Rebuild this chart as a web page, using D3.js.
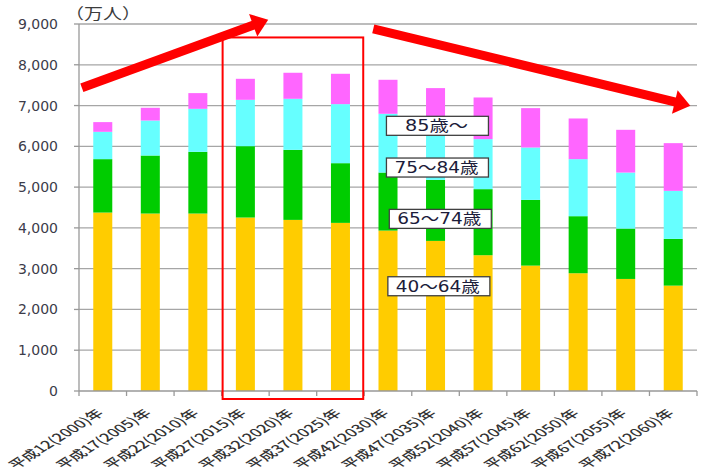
<!DOCTYPE html>
<html>
	<head>
		<meta http-equiv="Content-Type" content="text/html;charset=utf-8"/>
		<title>40歳以上人口の推移</title>
		<script type="text/javascript" src="https://cdn.jsdelivr.net/npm/d3@7/dist/d3.min.js"></script>
		<style type="text/css">
			body { margin: 0; background: #fff; }
			text { font-family: "DejaVu Sans", "Noto Sans CJK JP", sans-serif; }
			.grid line { stroke: #a6a6a6; stroke-width: 1.3; }
			.tick-label { fill: #3c3c4a; font-size: 14px; }
			.cat-label { fill: #333; font-size: 11px; font-family: "Noto Sans CJK JP", sans-serif; font-weight: 500; }
			.seg-box { fill: #fff; stroke: #404040; stroke-width: 1.3; }
			.seg-text { fill: #1c1c3a; font-size: 15px; }
		</style>
	</head>
	<body>
		<script type="text/javascript">

			//Categories (x axis)
			var categories = ["平成12(2000)年", "平成17(2005)年", "平成22(2010)年", "平成27(2015)年",
				"平成32(2020)年", "平成37(2025)年", "平成42(2030)年", "平成47(2035)年",
				"平成52(2040)年", "平成57(2045)年", "平成62(2050)年", "平成67(2055)年", "平成72(2060)年"];

			//Series values, 万人 (bottom to top)
			var age40to64 = [4376, 4352, 4352, 4254, 4196, 4123, 3934, 3681, 3330, 3075, 2888, 2748, 2584];
			var age65to74 = [1310, 1423, 1513, 1750, 1718, 1464, 1423, 1497, 1620, 1612, 1399, 1235, 1146];
			var age75to84 = [ 670,  858, 1055, 1137, 1252, 1448, 1441, 1472, 1227, 1284, 1399, 1374, 1178];
			var age85plus = [ 238,  312,  385,  515,  638,  744,  834,  778, 1021,  966,  997, 1048, 1170];

			var seriesNames = ["40〜64歳", "65〜74歳", "75〜84歳", "85歳〜"];
			var seriesColors = ["#ffcc00", "#00cc00", "#66ffff", "#ff66ff"];

			//Y ticks
			var yTicks = [0, 1000, 2000, 3000, 4000, 5000, 6000, 7000, 8000, 9000];
			var unitLabel = "（万人）";

			//Label boxes: [series index, category position of box centre, value at box centre]
			var segLabels = [
				[3, 7.54, 6503],
				[2, 7.54, 5480],
				[1, 7.60, 4221],
				[0, 7.57, 2569]
			];

			//Red arrows: [category position, value] start and tip
			var arrows = [
				[[0.06, 7435], [3.98, 9104]],
				[[6.19, 8883], [12.86, 6994]]
			];
			//Highlighted categories (2015-2025)
			var highlight = [3, 5];

			var w = 705,
				h = 472,
				mLeft = 79,
				mRight = 697,
				mTop = 24,
				mBottom = 391;

			var svg = d3.select("body").append("svg")
						.attr("width", w)
						.attr("height", h);

			var x = d3.scaleBand()
				.domain(categories)
				.range([mLeft, mRight])
				.paddingInner(0.6)
				.paddingOuter(0.3);

			var y = d3.scaleLinear()
				.domain([0, 9000])
				.range([mBottom, mTop]);

			var step = x.step();
			function px(p) { return mLeft + p * step; }

			//Gridlines
			svg.append("g").attr("class", "grid")
				.selectAll("line")
				.data(yTicks.filter(function(d) { return d > 0; }))
				.enter().append("line")
				.attr("x1", mLeft).attr("x2", mRight)
				.attr("y1", function(d) { return y(d); })
				.attr("y2", function(d) { return y(d); });

			//Y axis line + small ticks
			svg.append("line")
				.attr("x1", mLeft).attr("x2", mLeft)
				.attr("y1", mTop).attr("y2", mBottom)
				.attr("stroke", "#999").attr("stroke-width", 1.3);
			svg.append("g").selectAll("line")
				.data(yTicks).enter().append("line")
				.attr("x1", mLeft - 5).attr("x2", mLeft)
				.attr("y1", function(d) { return y(d); })
				.attr("y2", function(d) { return y(d); })
				.attr("stroke", "#999").attr("stroke-width", 1.3);

			svg.append("g").selectAll("text")
				.data(yTicks).enter().append("text")
				.attr("class", "tick-label")
				.attr("x", 58)
				.attr("y", function(d) { return y(d); })
				.attr("dy", "0.36em")
				.attr("text-anchor", "end")
				.text(function(d) { return d3.format(",")(d); });

			svg.append("text")
				.attr("x", 65)
				.attr("y", 19)
				.attr("font-size", "15px")
				.attr("fill", "#3c3c3c")
				.attr("textLength", 76)
				.attr("lengthAdjust", "spacingAndGlyphs")
				.style("font-family", "'Noto Sans CJK JP', sans-serif")
				.text(unitLabel);

			//Stacked bars
			var rows = categories.map(function(c, i) {
				return { cat: c, v0: age40to64[i], v1: age65to74[i], v2: age75to84[i], v3: age85plus[i] };
			});
			var stack = d3.stack().keys(["v0", "v1", "v2", "v3"]);
			var layers = stack(rows);

			svg.append("g").selectAll("g")
				.data(layers).enter().append("g")
				.attr("fill", function(d, i) { return seriesColors[i]; })
				.selectAll("rect")
				.data(function(d) { return d; })
				.enter().append("rect")
				.attr("x", function(d) { return x(d.data.cat); })
				.attr("width", x.bandwidth())
				.attr("y", function(d) { return y(d[1]); })
				.attr("height", function(d) { return y(d[0]) - y(d[1]); });

			//X axis line + ticks at category boundaries
			svg.append("line")
				.attr("x1", mLeft).attr("x2", mRight)
				.attr("y1", mBottom).attr("y2", mBottom)
				.attr("stroke", "#999").attr("stroke-width", 1.3);
			svg.append("g").selectAll("line")
				.data(d3.range(categories.length + 1)).enter().append("line")
				.attr("x1", function(i) { return px(i); })
				.attr("x2", function(i) { return px(i); })
				.attr("y1", mBottom).attr("y2", mBottom + 5)
				.attr("stroke", "#999").attr("stroke-width", 1.3);

			//Category labels: 45 degrees, then stretched sideways like the source image
			svg.append("g").selectAll("text")
				.data(categories).enter().append("text")
				.attr("class", "cat-label")
				.attr("text-anchor", "end")
				.attr("transform", function(d) {
					return "translate(" + (x(d) + x.bandwidth() / 2 + 2) + "," + 414 + ") scale(1.6,1) rotate(-45)";
				})
				.text(function(d) { return d; });

			//Highlight rectangle
			svg.append("rect")
				.attr("x", px(highlight[0]) + 1)
				.attr("y", y(8670))
				.attr("width", px(highlight[1] + 1) - px(highlight[0]) - 2)
				.attr("height", mBottom + 8 - y(8670))
				.attr("fill", "none")
				.attr("stroke", "#ff0000")
				.attr("stroke-width", 2);

			//Red arrows
			arrows.forEach(function(a) {
				var x0 = px(a[0][0]), y0 = y(a[0][1]),
					x1 = px(a[1][0]), y1 = y(a[1][1]);
				var ang = Math.atan2(y1 - y0, x1 - x0);
				var hl = 16, hw = 12;
				var bx = x1 - hl * Math.cos(ang), by = y1 - hl * Math.sin(ang);
				svg.append("line")
					.attr("x1", x0).attr("y1", y0)
					.attr("x2", bx + 2 * Math.cos(ang)).attr("y2", by + 2 * Math.sin(ang))
					.attr("stroke", "#ff0000").attr("stroke-width", 9);
				var nx = -Math.sin(ang), ny = Math.cos(ang);
				svg.append("polygon")
					.attr("points", [
						[x1, y1],
						[bx + nx * hw, by + ny * hw],
						[bx - nx * hw, by - ny * hw]
					].map(function(p) { return p.join(","); }).join(" "))
					.attr("fill", "#ff0000");
			});

			//Series label boxes (text stretched wide like the original)
			function labelWidth(s) {
				var n = 0;
				for (var i = 0; i < s.length; i++) n += /[0-9]/.test(s[i]) ? 10.5 : 21;
				return n;
			}
			var lab = svg.append("g").selectAll("g")
				.data(segLabels).enter().append("g")
				.attr("transform", function(d) { return "translate(" + px(d[1]) + "," + y(d[2]) + ")"; });
			lab.append("rect")
				.attr("class", "seg-box")
				.attr("x", -51).attr("y", -9.5)
				.attr("width", 102).attr("height", 19);
			lab.append("text")
				.attr("class", "seg-text")
				.attr("x", function(d) { return -1 - labelWidth(seriesNames[d[0]]) / 2; })
				.attr("dy", "0.36em")
				.attr("textLength", function(d) { return labelWidth(seriesNames[d[0]]); })
				.attr("lengthAdjust", "spacingAndGlyphs")
				.text(function(d) { return seriesNames[d[0]]; });

		</script>
	</body>
</html>
